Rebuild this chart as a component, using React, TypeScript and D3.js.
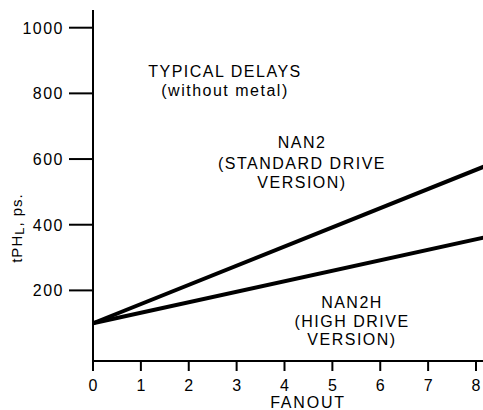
import * as d3 from 'd3';
import { useRef, useEffect } from 'react';

// fanout vs. tPHL (ps)
const fanout = [0, 8.2];
const nan2Delay = [100, 579];
const nan2hDelay = [100, 362];
const xTicks = [0, 1, 2, 3, 4, 5, 6, 7, 8];
const yTicks = [200, 400, 600, 800, 1000];

const W = 483;
const H = 410;
const FONT = '"Liberation Sans", Arial, sans-serif';

const App = () => {
  const ref = useRef<SVGSVGElement>(null);

  useEffect(() => {
    const svg = d3.select(ref.current);
    svg.selectAll('*').remove();

    const x = d3.scaleLinear().domain([0, 8]).range([93, 476]);
    const y = d3.scaleLinear().domain([-15, 1000]).range([361, 27.7]);
    const x0 = x(0);
    const y0 = y(-15);

    const g = svg.append('g').attr('font-family', FONT).attr('fill', '#000');

    // axes lines
    g.append('line')
      .attr('x1', x0).attr('x2', x0)
      .attr('y1', 10).attr('y2', y0)
      .attr('stroke', '#000').attr('stroke-width', 2);
    g.append('line')
      .attr('x1', x0).attr('x2', W)
      .attr('y1', y0).attr('y2', y0)
      .attr('stroke', '#000').attr('stroke-width', 2);

    // y ticks
    g.selectAll('.yt')
      .data(yTicks)
      .enter()
      .append('line')
      .attr('x1', x0 - 24).attr('x2', x0)
      .attr('y1', d => y(d)).attr('y2', d => y(d))
      .attr('stroke', '#000').attr('stroke-width', 2);
    g.selectAll('.yl')
      .data(yTicks)
      .enter()
      .append('text')
      .text(d => d)
      .attr('x', x0 - 29)
      .attr('y', d => y(d) + 6)
      .attr('text-anchor', 'end')
      .attr('font-size', 16)
      .attr('letter-spacing', 1.5);

    // x ticks
    g.selectAll('.xt')
      .data(xTicks)
      .enter()
      .append('line')
      .attr('x1', d => x(d)).attr('x2', d => x(d))
      .attr('y1', y0).attr('y2', y0 + 10)
      .attr('stroke', '#000').attr('stroke-width', 2);
    g.selectAll('.xl')
      .data(xTicks)
      .enter()
      .append('text')
      .text(d => d)
      .attr('x', d => x(d))
      .attr('y', 391)
      .attr('text-anchor', 'middle')
      .attr('font-size', 16);

    g.append('text')
      .text('FANOUT')
      .attr('x', 308).attr('y', 408)
      .attr('text-anchor', 'middle')
      .attr('font-size', 16)
      .attr('letter-spacing', 1.8);

    // y label
    const yl = g.append('text')
      .attr('transform', 'translate(22,228) rotate(-90)')
      .attr('text-anchor', 'middle')
      .attr('font-size', 15)
      .attr('letter-spacing', 1);
    yl.append('tspan').text('tPH');
    yl.append('tspan').text('L').attr('dy', 1.5).attr('font-size', 13);
    yl.append('tspan').text(', ps.').attr('dy', -1.5);

    // lines
    const line = d3.line<[number, number]>()
      .x(d => x(d[0]))
      .y(d => y(d[1]));
    [nan2Delay, nan2hDelay].forEach(vals => {
      g.append('path')
        .attr('d', line(fanout.map((f, i) => [f, vals[i]] as [number, number])))
        .attr('fill', 'none')
        .attr('stroke', '#000')
        .attr('stroke-width', 4);
    });

    // annotations
    const labels: [number, number, string][] = [
      [225, 77, 'TYPICAL DELAYS'],
      [225, 96, '(without metal)'],
      [302, 148, 'NAN2'],
      [302, 169, '(STANDARD DRIVE'],
      [302, 188, 'VERSION)'],
      [352, 308, 'NAN2H'],
      [352, 327, '(HIGH DRIVE'],
      [352, 345, 'VERSION)'],
    ];
    g.selectAll('.ann')
      .data(labels)
      .enter()
      .append('text')
      .text(d => d[2])
      .attr('x', d => d[0])
      .attr('y', d => d[1])
      .attr('text-anchor', 'middle')
      .attr('font-size', 16)
      .attr('letter-spacing', 1.5);
  }, []);

  return (
    <svg
      ref={ref}
      width={W}
      height={H}
      style={{ position: 'absolute', left: 0, top: 0, background: '#fff' }}
    />
  );
};

export default App;
